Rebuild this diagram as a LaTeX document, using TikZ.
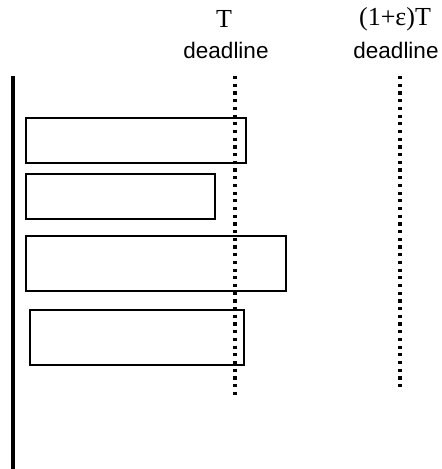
\documentclass[tikz,border=0pt]{standalone}
\usepackage{fontspec}
\setmainfont{Liberation Serif}
\setsansfont{Liberation Sans}
\usetikzlibrary{positioning}

\begin{document}
\begin{tikzpicture}[
    x=1pt, y=-1pt,
    job/.style={rectangle, draw, line width=1.6pt, inner sep=0pt, anchor=north west},
    deadline/.style={line width=3.4pt, dash pattern=on 3.2pt off 4.5pt},
    axis/.style={line width=4pt},
    sym/.style={font=\fontsize{26}{28}\selectfont, inner sep=0pt},
    word/.style={font=\sffamily\fontsize{22.5}{24}\selectfont, inner sep=0pt}
]
\useasboundingbox (0,0) rectangle (442,469);

% Time axis
\coordinate (axtop) at (12.5,76);
\coordinate (axbot) at (12.5,469);
\draw[axis] (axtop) -- (axbot);

% Jobs
\node[job, minimum width=220pt, minimum height=45pt] (J1) at (25,117) {};
\node[job, minimum width=189pt, minimum height=45pt] (J2) at (25,173) {};
\node[job, minimum width=260pt, minimum height=55pt] (J3) at (25,235) {};
\node[job, minimum width=214pt, minimum height=55pt] (J4) at (29,309) {};

% Deadlines
\coordinate (T1top) at (235,76);
\coordinate (T1bot) at (235,397);
\coordinate (T2top) at (400,76);
\coordinate (T2bot) at (400,390);
\draw[deadline] (T1top) -- (T1bot);
\draw[deadline] (T2top) -- (T2bot);

% Labels
\node[sym] (Tlab) at (224,19) {T};
\node[word] (Tdead) at (226,50) {deadline};
\node[sym] (ETlab) at (395,19) {(1+ε)T};
\node[word] (ETdead) at (396,50) {deadline};

\end{tikzpicture}
\end{document}
